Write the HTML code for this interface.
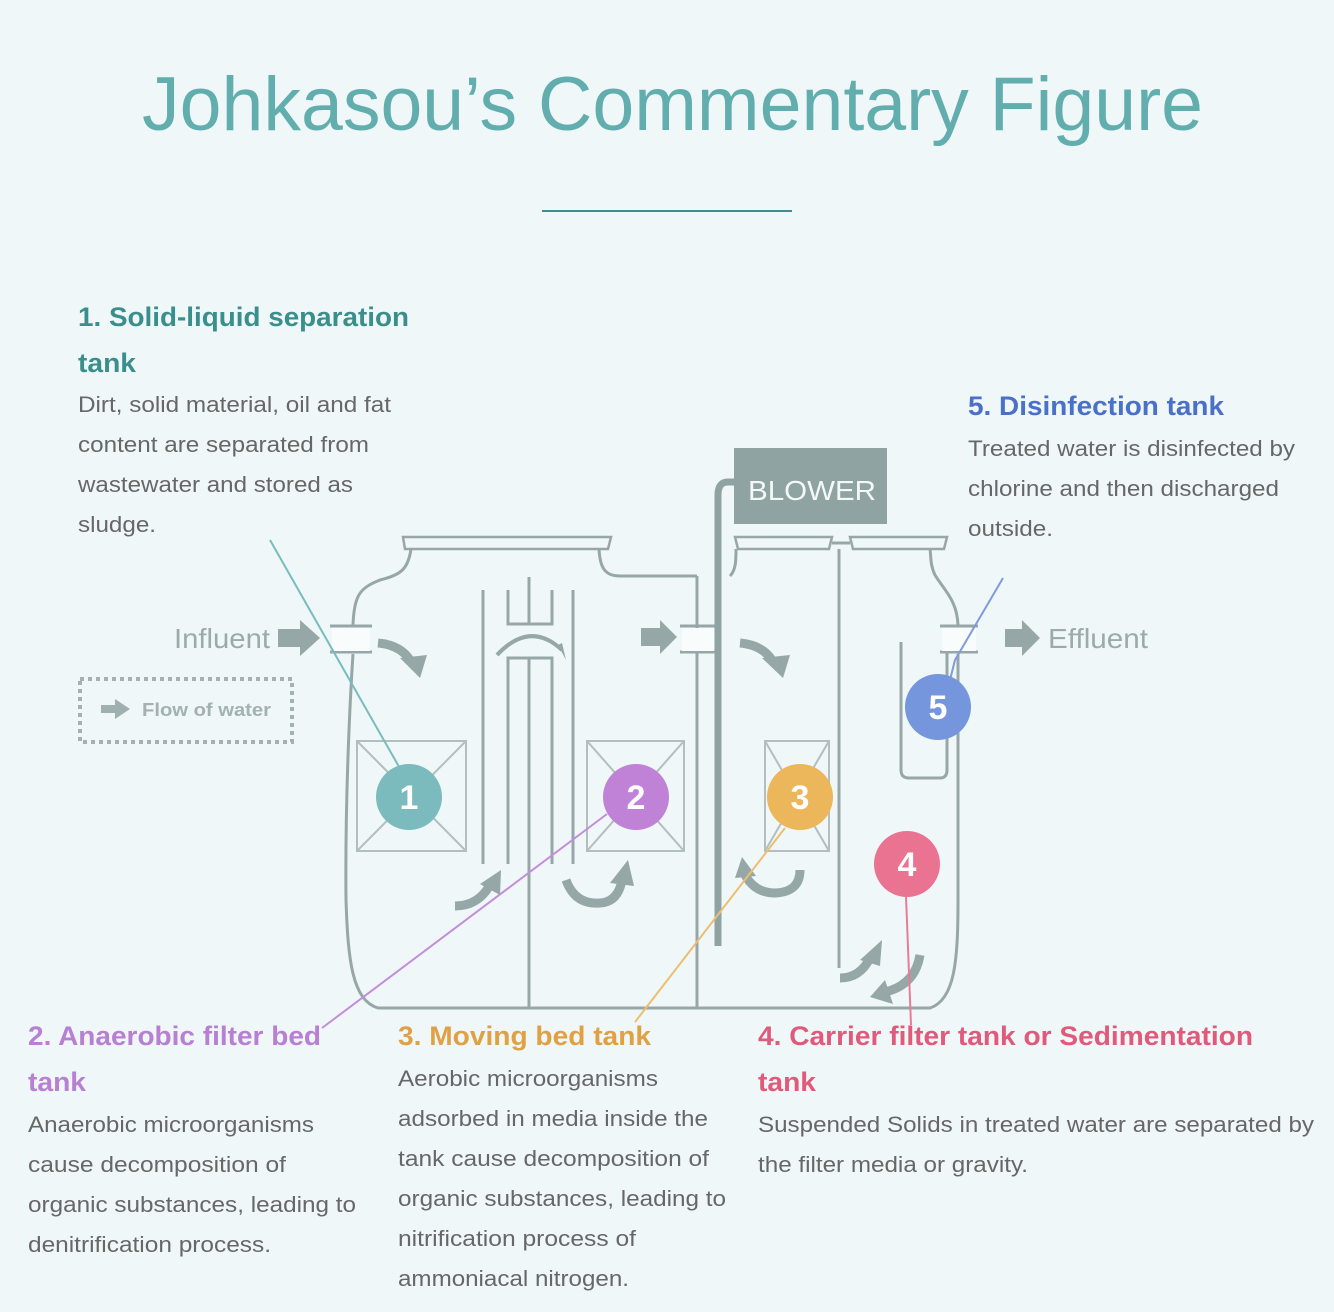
<!DOCTYPE html>
<html><head><meta charset="utf-8"><style>
html,body{margin:0;padding:0;background:#eff7f8;}
svg{display:block;}
.h{font-family:"Liberation Sans",sans-serif;font-weight:bold;font-size:27px;}
.b{font-family:"Liberation Sans",sans-serif;font-size:22px;fill:#676767;}
</style></head><body>
<svg width="1334" height="1312" viewBox="0 0 1334 1312" xmlns="http://www.w3.org/2000/svg">
<rect width="1334" height="1312" fill="#eff7f8"/>
<text x="142" y="130" font-family="Liberation Sans,sans-serif" font-size="76" fill="#62aeae" textLength="1061" lengthAdjust="spacingAndGlyphs">Johkasou’s Commentary Figure</text>
<line x1="542" y1="211" x2="792" y2="211" stroke="#3f8f90" stroke-width="2"/>

<g fill="none" stroke="#97a7a7" stroke-width="3">
<path d="M411 549 C408 570 400 575 380 580 C360 588 354 595 353 625 M353 654 C350 700 345 800 346 900 C348 960 352 1000 378 1008 L930 1008 C955 1000 958 960 958 900 L958 654 M958 625 C957 600 944 590 935 575 C930 565 931 555 930 549"/>
<path d="M599 549 C600 568 605 576 620 576 L697 576 M730 576 C736 570 736 560 736 549"/>
<path d="M403 537 L611 537 L608 549 L405 549 Z" stroke-width="2.5"/>
<path d="M735 537 L832 537 L829 549 L738 549 Z" stroke-width="2.5"/>
<path d="M850 537 L947 537 L944 549 L853 549 Z" stroke-width="2.5"/>
<path d="M832 543 L850 543"/>
<path d="M483 590 L483 864 M573 590 L573 864 M508 590 L508 624 L552 624 L552 590 M529 577 L529 624 M508 864 L508 658 L552 658 L552 864 M529 658 L529 1008"/>
<path d="M697 576 L697 1008 M839 549 L839 968"/>
<path d="M901 642 L901 770 Q901 778 909 778 L940 778 Q947 778 947 770 L947 642"/>
<path d="M330 626 L372 626 M330 652 L372 652 M680 626 L716 626 M680 652 L716 652 M940 626 L978 626 M940 652 L978 652"/>
</g>
<rect x="332" y="628" width="38" height="23" fill="#f8fcfc"/>
<rect x="682" y="628" width="32" height="23" fill="#f8fcfc"/>
<rect x="942" y="628" width="34" height="23" fill="#f8fcfc"/>
<g fill="none" stroke="#b3bfbf" stroke-width="2">
<rect x="357" y="741" width="109" height="110"/><path d="M357 741 L466 851 M466 741 L357 851"/>
<rect x="587" y="741" width="97" height="110"/><path d="M587 741 L684 851 M684 741 L587 851"/>
<rect x="765" y="741" width="64" height="110"/><path d="M765 741 L829 851 M829 741 L765 851"/>
</g>
<path d="M734 482 L728 482 Q718 482 718 495 L718 946" fill="none" stroke="#8ea3a2" stroke-width="7"/>
<rect x="734" y="448" width="153" height="76" fill="#8ea3a2"/>
<text x="812" y="500" text-anchor="middle" font-family="Liberation Sans,sans-serif" font-size="28" fill="#f4f8f8" textLength="128" lengthAdjust="spacingAndGlyphs">BLOWER</text>

<g fill="#95a7a6" stroke="none">
<path d="M278 629 L300 629 L300 620 L320 638 L300 656 L300 647 L278 647 Z"/>
<path d="M641 628 L660 628 L660 620 L677 637 L660 654 L660 646 L641 646 Z"/>
<path d="M1005 629 L1022 629 L1022 620 L1040 638 L1022 656 L1022 647 L1005 647 Z"/>
</g>
<g fill="none" stroke="#95a7a6" stroke-width="9">
<path d="M378 643 Q400 645 410 660"/>
<path d="M740 643 Q762 645 772 660"/>
<path d="M455 906 Q478 906 490 885"/>
<path d="M566 880 Q575 905 600 903 Q618 902 622 880"/>
<path d="M800 870 Q800 892 775 893 Q755 893 745 875"/>
<path d="M840 978 Q860 978 870 958"/>
<path d="M920 955 Q915 985 885 992"/>
<path d="M497 655 Q530 620 562 650" stroke-width="4"/>
</g>
<g fill="#95a7a6">
<path d="M400 658 L427 655 L420 678 Z"/>
<path d="M762 658 L790 655 L783 678 Z"/>
<path d="M480 884 L501 870 L500 895 Z"/>
<path d="M610 883 L628 860 L634 886 Z"/>
<path d="M735 878 L742 857 L756 876 Z"/>
<path d="M860 960 L882 940 L880 966 Z"/>
<path d="M885 980 L870 997 L893 1004 Z"/>
<path d="M558 645 L566 660 L562 643 Z"/>
</g>

<rect x="80" y="679" width="212" height="63" fill="none" stroke="#a3b1b1" stroke-width="4" stroke-dasharray="4 4"/>
<path d="M101 705 L115 705 L115 699 L130 709 L115 719 L115 713 L101 713 Z" fill="#9fb0b0"/>
<text x="142" y="716" font-family="Liberation Sans,sans-serif" font-size="18" font-weight="bold" fill="#a3b1b1" textLength="129" lengthAdjust="spacingAndGlyphs">Flow of water</text>
<text x="174" y="648" font-family="Liberation Sans,sans-serif" font-size="28" fill="#9caaaa" textLength="96" lengthAdjust="spacingAndGlyphs">Influent</text>
<text x="1048" y="648" font-family="Liberation Sans,sans-serif" font-size="28" fill="#9caaaa" textLength="100" lengthAdjust="spacingAndGlyphs">Effluent</text>

<line x1="270" y1="540" x2="402" y2="772" stroke="#78bcbd" stroke-width="2"/>
<line x1="607" y1="814" x2="322" y2="1028" stroke="#c48ddb" stroke-width="2"/>
<line x1="785" y1="828" x2="635" y2="1022" stroke="#ecbf70" stroke-width="2"/>
<line x1="906" y1="896" x2="911" y2="1025" stroke="#e67d98" stroke-width="2"/>
<path d="M1003 578 L955 660 L950 680" fill="none" stroke="#7e9bdc" stroke-width="2"/>

<g font-family="Liberation Sans,sans-serif" font-size="34" font-weight="bold" fill="#fff" text-anchor="middle">
<circle cx="409" cy="797" r="33" fill="#7bbbbd"/><text x="409" y="809">1</text>
<circle cx="636" cy="797" r="33" fill="#bf82d6"/><text x="636" y="809">2</text>
<circle cx="800" cy="797" r="33" fill="#ecb65a"/><text x="800" y="809">3</text>
<circle cx="907" cy="864" r="33" fill="#e97391"/><text x="907" y="876">4</text>
<circle cx="938" cy="707" r="33" fill="#7596dc"/><text x="938" y="719">5</text>
</g>

<text class="h" x="78" y="326" fill="#3a8f8c" textLength="331" lengthAdjust="spacingAndGlyphs">1. Solid-liquid separation</text>
<text class="h" x="78" y="372" fill="#3a8f8c" textLength="58" lengthAdjust="spacingAndGlyphs">tank</text>
<text class="b" x="78" y="412" textLength="313" lengthAdjust="spacingAndGlyphs">Dirt, solid material, oil and fat</text>
<text class="b" x="78" y="452" textLength="291" lengthAdjust="spacingAndGlyphs">content are separated from</text>
<text class="b" x="78" y="492" textLength="275" lengthAdjust="spacingAndGlyphs">wastewater and stored as</text>
<text class="b" x="78" y="532" textLength="78" lengthAdjust="spacingAndGlyphs">sludge.</text>

<text class="h" x="968" y="415" fill="#4b70c9" textLength="256" lengthAdjust="spacingAndGlyphs">5. Disinfection tank</text>
<text class="b" x="968" y="456" textLength="327" lengthAdjust="spacingAndGlyphs">Treated water is disinfected by</text>
<text class="b" x="968" y="496" textLength="311" lengthAdjust="spacingAndGlyphs">chlorine and then discharged</text>
<text class="b" x="968" y="536" textLength="85" lengthAdjust="spacingAndGlyphs">outside.</text>

<text class="h" x="28" y="1045" fill="#b87fd3" textLength="293" lengthAdjust="spacingAndGlyphs">2. Anaerobic filter bed</text>
<text class="h" x="28" y="1091" fill="#b87fd3" textLength="58" lengthAdjust="spacingAndGlyphs">tank</text>
<text class="b" x="28" y="1132" textLength="286" lengthAdjust="spacingAndGlyphs">Anaerobic microorganisms</text>
<text class="b" x="28" y="1172" textLength="258" lengthAdjust="spacingAndGlyphs">cause decomposition of</text>
<text class="b" x="28" y="1212" textLength="328" lengthAdjust="spacingAndGlyphs">organic substances, leading to</text>
<text class="b" x="28" y="1252" textLength="243" lengthAdjust="spacingAndGlyphs">denitrification process.</text>

<text class="h" x="398" y="1045" fill="#e0a144" textLength="253" lengthAdjust="spacingAndGlyphs">3. Moving bed tank</text>
<text class="b" x="398" y="1086" textLength="260" lengthAdjust="spacingAndGlyphs">Aerobic microorganisms</text>
<text class="b" x="398" y="1126" textLength="310" lengthAdjust="spacingAndGlyphs">adsorbed in media inside the</text>
<text class="b" x="398" y="1166" textLength="311" lengthAdjust="spacingAndGlyphs">tank cause decomposition of</text>
<text class="b" x="398" y="1206" textLength="328" lengthAdjust="spacingAndGlyphs">organic substances, leading to</text>
<text class="b" x="398" y="1246" textLength="238" lengthAdjust="spacingAndGlyphs">nitrification process of</text>
<text class="b" x="398" y="1286" textLength="231" lengthAdjust="spacingAndGlyphs">ammoniacal nitrogen.</text>

<text class="h" x="758" y="1045" fill="#e05a7b" textLength="495" lengthAdjust="spacingAndGlyphs">4. Carrier filter tank or Sedimentation</text>
<text class="h" x="758" y="1091" fill="#e05a7b" textLength="58" lengthAdjust="spacingAndGlyphs">tank</text>
<text class="b" x="758" y="1132" textLength="556" lengthAdjust="spacingAndGlyphs">Suspended Solids in treated water are separated by</text>
<text class="b" x="758" y="1172" textLength="270" lengthAdjust="spacingAndGlyphs">the filter media or gravity.</text>
</svg>
</body></html>
